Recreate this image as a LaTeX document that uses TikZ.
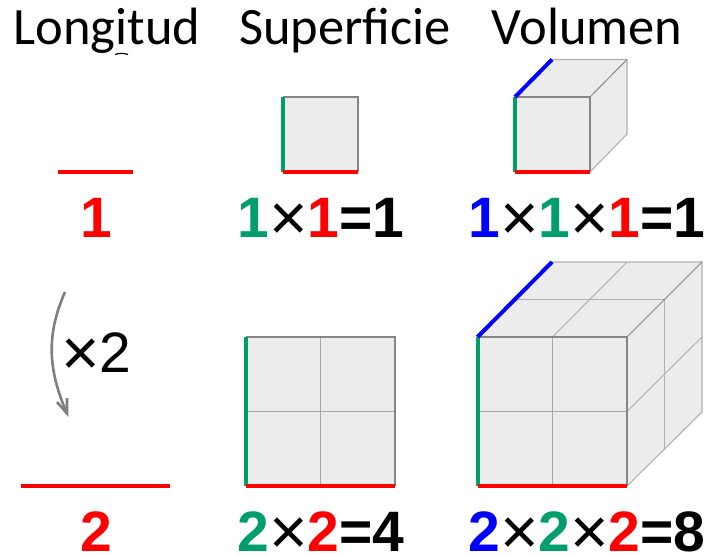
\documentclass[tikz,border=0pt]{standalone}
\usepackage{fontspec}
\setmainfont{Liberation Sans}
\newfontfamily\headfont{Carlito}
\definecolor{cgreen}{HTML}{009E6B}
\definecolor{cface}{HTML}{ECECEC}
\definecolor{cedge}{HTML}{858585}
\definecolor{cgrid}{HTML}{A6A6A6}
\definecolor{cback}{HTML}{B0B0B0}
\definecolor{carrow}{HTML}{7F7F7F}
\newcommand{\bigsize}{\fontsize{57}{60}\selectfont}
\newcommand{\G}{\textcolor{cgreen}}
\newcommand{\R}{\textcolor{red}}
\newcommand{\B}{\textcolor{blue}}
\newcommand{\X}{\raisebox{-3pt}{\fontsize{66}{66}\selectfont\mdseries ×}}
\tikzset{
  x=1pt,y=-1pt,
  head/.style={inner sep=0pt,anchor=base,font=\headfont\fontsize{52.5}{54}\selectfont,text=black},
  eqn/.style={inner sep=0pt,anchor=base,font=\bigsize\bfseries,text=black},
  face/.style={fill=cface,draw=none},
  grid/.style={draw=cgrid,line width=1.2pt},
  faint/.style={draw=cback,line width=1.1pt},
  edge/.style={draw=cedge,line width=1.4pt},
  redge/.style={draw=red,line width=4pt},
  gedge/.style={draw=cgreen,line width=4pt},
  bedge/.style={draw=blue,line width=4pt},
}
\begin{document}
\begin{tikzpicture}
\useasboundingbox (0,0) rectangle (709,554);
% headings
\node[head] (hl) at (107,44) {Longitud};
\node[head] (hs) at (345,44) {Superficie};
\node[head] (hv) at (587,44) {Volumen};
\draw[black,line width=1.2pt] (115,54.5) .. controls (119,53) and (124,53) .. (128,54.5);
% length
\coordinate (l1a) at (58,172); \coordinate (l1b) at (133,172);
\coordinate (l2a) at (21,486); \coordinate (l2b) at (170,486);
\draw[redge] (l1a) -- (l1b);
\draw[redge] (l2a) -- (l2b);
\node[eqn,text=red] (n1) at (96,237) {1};
\node[eqn,text=red] (n2) at (96,551) {2};
% arrow
\coordinate (ara) at (65,292); \coordinate (arb) at (67,413.5);
\draw[draw=carrow,line width=2.6pt] (ara) .. controls (46,335) and (48,370) .. (arb);
\draw[draw=carrow,line width=2.6pt,line join=miter] (57,402) -- (67,413.5) -- (67,398);
\node[inner sep=0pt,anchor=base,font=\bigsize] (x2) at (96.5,372.5) {\X{}2};
% small square
\path[face] (283,97) rectangle (358,172);
\draw[edge] (283,97) -- (358,97) -- (358,172);
\draw[gedge] (283,97) -- (283,172);
\draw[redge] (283,172) -- (358,172);
\node[eqn] (e1) at (321,237) {\G{1}\X\R{1}=1};
% large square
\path[face] (246,337) rectangle (395,486);
\draw[grid] (320.5,337) -- (320.5,486);
\draw[grid] (246,411.5) -- (395,411.5);
\draw[edge] (246,337) -- (395,337) -- (395,486);
\draw[gedge] (246,337) -- (246,486);
\draw[redge] (246,486) -- (395,486);
\node[eqn] (e2) at (321,551) {\G{2}\X\R{2}=4};
% small cube
\path[face] (515,97) -- (552,59.5) -- (627,59.5) -- (627,134) -- (590,172) -- (515,172) -- cycle;
\draw[faint] (552,59.5) -- (627,59.5) -- (627,134) -- (590,172);
\draw[edge,line width=1pt] (590,97) -- (627,59.5);
\draw[edge] (515,97) -- (590,97) -- (590,172);
\draw[gedge] (515,97) -- (515,172);
\draw[redge] (515,172) -- (590,172);
\draw[bedge] (515,97) -- (552,59.5);
\node[eqn] (e3) at (587,237) {\B{1}\X\G{1}\X\R{1}=1};
% large cube
\path[face] (477.5,337) -- (552,262) -- (702,262) -- (702,412) -- (627,486) -- (477.5,486) -- cycle;
\draw[faint] (552,262) -- (702,262) -- (702,412) -- (627,486);
% top grid
\draw[draw=cback,line width=1pt] (514.7,299.5) -- (664.5,299.5);
\draw[draw=cback,line width=1pt] (552.3,337) -- (627,262);
% side grid
\draw[draw=cback,line width=1pt] (664.5,299.5) -- (664.5,449);
\draw[draw=cback,line width=1pt] (627,411.5) -- (702,337);
% front grid
\draw[grid] (552.5,337) -- (552.5,486);
\draw[grid] (477.5,411.5) -- (627,411.5);
\draw[edge,line width=1pt] (627,337) -- (702,262);
\draw[edge] (477.5,337) -- (627,337) -- (627,486);
\draw[gedge] (477.5,337) -- (477.5,486);
\draw[redge] (477.5,486) -- (627,486);
\draw[bedge] (477.5,337) -- (552,262);
\node[eqn] (e4) at (587,551) {\B{2}\X\G{2}\X\R{2}=8};
\end{tikzpicture}
\end{document}
